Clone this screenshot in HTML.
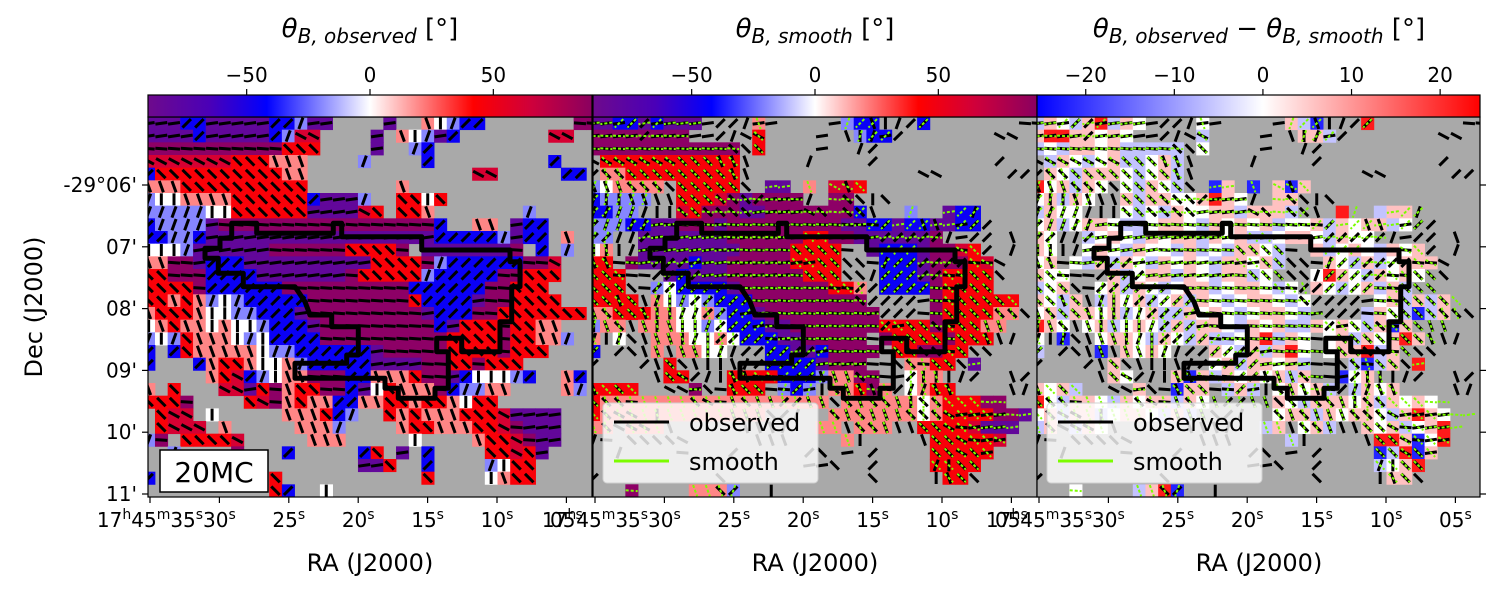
<!DOCTYPE html>
<html><head><meta charset="utf-8">
<style>
html,body{margin:0;padding:0;background:#fff;}
svg{display:block;font-family:"DejaVu Sans","Liberation Sans",sans-serif;}
</style></head>
<body>
<svg id="fig" width="1496" height="592" viewBox="0 0 1496 592" xmlns="http://www.w3.org/2000/svg">
<defs>
<linearGradient id="gTheta" x1="0" x2="1" y1="0" y2="0">
<stop offset="0" stop-color="#6e0a8c"/><stop offset="0.14" stop-color="#4a00b8"/><stop offset="0.267" stop-color="#0000ff"/><stop offset="0.5" stop-color="#ffffff"/><stop offset="0.733" stop-color="#ff0000"/><stop offset="0.86" stop-color="#d0003a"/><stop offset="1" stop-color="#8a0060"/>
</linearGradient>
<linearGradient id="gDiff" x1="0" x2="1" y1="0" y2="0">
<stop offset="0" stop-color="#0000ff"/><stop offset="0.51" stop-color="#ffffff"/><stop offset="1" stop-color="#ff0000"/>
</linearGradient>
<clipPath id="c1"><rect x="148" y="117" width="444" height="380"/></clipPath>
<clipPath id="c2"><rect x="593" y="117" width="444" height="380"/></clipPath>
<clipPath id="c3"><rect x="1037" y="117" width="443" height="380"/></clipPath>
</defs>
<g id="layer"></g>
</svg>
<script>
// ---- data ----
const charValueTheta = {p:-82, q:86, b:-45, l:-20, w:0, s:20, r:45, m:62};
const charValueDiff = {b:-22, l:-6, w:0, s:6, r:22};
const thetaTicks = [-50, 0, 50];
const diffTicks = [-20, -10, 0, 10, 20];
const decTickLabels = ["-29°06'", "07'", "08'", "09'", "10'", "11'"];
const decTickValues = [0, 1, 2, 3, 4, 5];
const raTickLabels = ["35", "30", "25", "20", "15", "10", "05"];
const raTickValues = [35, 30, 25, 20, 15, 10, 5];
const mapObserved = [
"pppbbpppppbblpp....p..swlbb.......qq.",
"ppppbpppppblmm....p.swlpb.......mm..",
"qqqqqqqqqqqrrr....p..lb.............",
"mmmmmmmrrrsss....l....b.........b..",
"brrrrrrrrrrss.............mm.....bb.",
"sssrrrrrrrrrr.......s...............",
"lwwssssrrrrrrbpppl..rrwr............",
"lllllwwrrrrrrppppmr.rrs.......l.....",
"bllllpqqqqqqqqqqqqqqqqqb..ss.pbb....",
"bbllbppppppppppppppppppbbbbblpbb.s..",
"wwwlppppppqqqqqqrrrrq.pppppppq.b.l..",
"ssqqpbbbpppppppppprrrrqlbbbbbbqqm...",
"rrqqqbbbbpppppppqrrrrrlbbbbbqqrrr...",
"rrrrqbbbbbbqqqqqqqqqqbbbbbbqqrrr....",
"rrsrslwlbbbbbqqqqqqqqrbbbbpqqrrrr...",
"srrrswwllbbbpqqqqqqqqqpbbbqqrrrrrrr.",
"wsrsswswwlbbbpqqqqqqqqqbprrrqrrss..",
"lwlrssswlwbbbbqqqqqqqqqqrrrrqrrssl..",
"b.brssssswllbbbbbbpqqqqqrrrrqrrr....",
"b...bsrrswwslbbbbbppppqqrrqrrr.....",
".....srmblwssqqqbbsssrqqpbwwwlb..sb",
"s.r...mmprqsrrqqbpwrsssqbllss....sl",
"rrrq....rmqsrssbbssrrsrrswrr.......",
".rmm.w.....sssrbl..rsrsssrrrmpppp.",
".rmmm.s.....sssl....srrsssrrmqppp..",
"lq.rrrrm.....sss.....w....srrmqpp..",
"..l....q...b.....br.p.b....rrmrp...",
".................ppr..b....lwrr....",
"b.........r...........r....wsrr....",
"..........rb..w....................."
];
const mapSmooth = [
"ppbbpbppp....s......lbb...b.........",
"qqqqqqqq.....r.......lbb............",
"qqqqqqqqqqqq.r......................",
".rrrrrrrrrrr........................",
".ssrrrrrrrrr........................",
"lwssss.rrrrr..pp.s.mmr.............",
"bllll..rrrmqpqqqq..qq...............",
"bbll...mrqqqppqqqqqqqb...l..pbb....",
"lllbbppqqqpqqqqqqqqqppbbpbbppbb....",
"ll..pppppppqqqqqqrrqqppppppq......",
"ws..ppppppppqqqqrrrr..pbbbpqqmr....",
"rr.qppppbppqqqqqrrrr...bbbpqqqrm...",
"rrr...pbpppqqqqqqrrr...bbbpqrrrr...",
"rrr..lwbbbbpqqqqqqqrrs.bbbbqrrrr...",
"rrrr.swlwlbbbqqqqqqqqq.....qrrrrrr.",
"ssrrrsswwslbbpqqqqqqqqq....qrrrrss.",
"lss.ssswwlwbbbppqqqqqqqrrrrqrrrss..",
"s.w..ssswwswbbbppqqqqq.qrrrrqrrr..",
"b....s.ssww...bbppbqqqq.rrqqrr.....",
"......r.......bbbbpqqq...ssrr.p....",
"......rr...rrrrbbblssqq..wss.......",
"rrrr....q..rrr.lbl.ssrqs.wsrr......",
"rssssssssssssssssss.sssssswsrrrqq..",
"rsssssssssssss.....ssssssswsrrrrqqp.",
"ss.sss............ss.sss..rrrrmppp.",
"....................s......rrrrrm..",
"...........................rrrrr....",
"...........................rrrr....",
"............................rr......",
"...q....sssl........................"
];
const mapDiff = [
"lswlsrlsw....w......slb...r.........",
"srrsswsw.....l.......ssl............",
"lwlsswslllll.w......................",
".lswlwsllwsl........................",
".swlssswlwsl........................",
"rwslsw.wlswl..bs.b.sbs.............",
"wslsw..slsswwsrsw..ss...............",
"lsww...wlwlswwsslsssl...r..lss.....",
"wslwsswllwsswlswswslwwslswsslw.....",
"sw..lwswlswsslswsllwsswlsww.......",
"sw..wswlswwlslwlsswl..slwswlsws....",
"ws.wlslswlswswlsswsl...swlslwsss...",
"sww...slwsslswlsslw...wrswlswsw....",
"lws..wslswlwsslwsswlw.swlwslsl.....",
"swls.lswslwslswlwsswlw.....wslsls..",
"wslsswslwsllswswlwsswl....lswlbls..",
"rsw.wslwswlslsswlswsllswswlsbs.....",
"w.b..wsswlswlsllwsrlsw.wslswsrs....",
"l....b.swsw...swlslsrw.wssrls......",
"......s.......wslsswsl...lbls.r....",
"......sw...sbslswswsls..bws........",
"swsl....s..bss.lsl.wswsl.lsws......",
"rwlsswlswsslsw.....swlssswslswsw...",
"wslsslwsswlsl......wsslswsswlsrsw..",
"ls.lsw............ls.wsl..swslwsr..",
"....................l......rrsbwr..",
"...........................blrbs....",
"...........................lwsr....",
"............................ss......",
"...w....lsrb........................"
];
// contour vertices (pixel coords measured in panel-1 reference zoom frame)
const contourZoomX = [110,185,185,415,415,440,440,680,680,945,945,975,975,950,950,915,915,800,800,725,725,760,760,720,720,610,610,570,570,300,300,455,455,490,490,410,410,345,330,300,145,145,70,70,30,30,75,75,110];
const contourZoomY = [25,25,55,55,25,25,65,65,105,105,140,140,215,215,320,320,410,410,370,370,410,410,520,520,550,550,520,520,490,490,445,445,420,420,335,335,300,300,260,215,215,175,175,130,130,100,100,70,70];

// ---- helpers ----
const NS = "http://www.w3.org/2000/svg";
const layer = document.getElementById('layer');
function mk(tag, attrs, parent){const e=document.createElementNS(NS,tag);for(const k in attrs)e.setAttribute(k,attrs[k]);(parent||layer).appendChild(e);return e;}
function lerpColor(stops, v){
  if(v<=stops[0][0])return 'rgb('+stops[0][1].join(',')+')';
  for(let i=1;i<stops.length;i++){if(v<=stops[i][0]){const t=(v-stops[i-1][0])/(stops[i][0]-stops[i-1][0]);const a=stops[i-1][1],b=stops[i][1];
    return 'rgb('+[0,1,2].map(j=>Math.round(a[j]+(b[j]-a[j])*t)).join(',')+')';}}
  const l=stops[stops.length-1][1];return 'rgb('+l.join(',')+')';
}
const thetaStops=[[-90,[110,10,140]],[-65,[74,0,184]],[-42,[0,0,255]],[0,[255,255,255]],[42,[255,0,0]],[65,[208,0,58]],[90,[128,0,110]]];
const diffStops=[[-25.5,[0,0,255]],[0,[255,255,255]],[24.5,[255,0,0]]];
const panelX=[148,593,1037], PW=444, PY=117, PH=380;
const CW=12.686, RH=12.667, GX0=-5.7;
function cellX(p,c){return panelX[p]+GX0+c*CW;}
function cellY(r){return PY+r*RH;}
function thetaX(p,v){return panelX[p]+PW/2+v*(PW/180);}
function diffX(v){return panelX[2]+(v+25.5)*(443/50);}

// ---- panels ----
for(let p=0;p<3;p++){
  const g=mk('g',{'clip-path':'url(#c'+(p+1)+')'});
  
  
  const bg=mk('rect',{x:panelX[p],y:PY,width:p==2?443:444,height:PH,fill:'#a9a9a9'},g);
  
  
  const map=[mapObserved,mapSmooth,mapDiff][p];
  for(let r=0;r<map.length;r++){for(let c=0;c<map[r].length;c++){
    const ch=map[r][c]; if(ch==='.'||ch===' ')continue;
    const col = p<2 ? lerpColor(thetaStops,charValueTheta[ch]) : lerpColor(diffStops,charValueDiff[ch]);
    const cell=mk('rect',{x:cellX(p,c).toFixed(2),y:cellY(r).toFixed(2),width:CW+0.4,height:RH+0.4,fill:col},g);
    
    
  }}
  const L=6;
  for(let r=0;r<30;r++){for(let c=0;c<36;c++){
    const cx=cellX(p,c)+CW/2, cy=cellY(r)+RH/2;
    const o=(mapObserved[r]||'')[c], s=(mapSmooth[r]||'')[c];
    if(o && o!=='.'){
      const th=charValueTheta[o]*Math.PI/180;
      const seg=mk('line',{x1:cx-L*Math.sin(th),y1:cy-L*Math.cos(th),x2:cx+L*Math.sin(th),y2:cy+L*Math.cos(th),stroke:'#000','stroke-width':3},g);
      
      
    }
    if(p>0 && s && s!=='.'){
      const th=charValueTheta[s]*Math.PI/180;
      const seg=mk('line',{x1:cx-L*Math.sin(th),y1:cy-L*Math.cos(th),x2:cx+L*Math.sin(th),y2:cy+L*Math.cos(th),stroke:'#7cfc00','stroke-width':2,'stroke-dasharray':'3,2'},g);
      
      
    }
  }}
  const pts=contourZoomX.map((zx,i)=>(195+zx/3+(panelX[p]-148)).toFixed(1)+','+(215+contourZoomY[i]/3).toFixed(1)).join(' ');
  const ct=mk('polygon',{points:pts,fill:'none',stroke:'#000','stroke-width':5,'stroke-linejoin':'round'},g);
  
  
  const fr=mk('rect',{x:panelX[p],y:PY,width:p==2?443:444,height:PH,fill:'none',stroke:'#000','stroke-width':1.2});
  
  

  for(let i=0;i<raTickValues.length;i++){
    const x=panelX[p]+150-148+(35-raTickValues[i])*(69.4/5);
    const tk=mk('line',{x1:x,y1:497,x2:x,y2:503,stroke:'#000','stroke-width':1.2});
    
    
    const t=mk('text',{x:x,y:527,'font-size':20,'text-anchor':'middle',fill:'#000'});
    
    
    if(i===0){
      t.innerHTML='17<tspan dy="-8" font-size="14">h</tspan><tspan dy="8">45</tspan><tspan dy="-8" font-size="14">m</tspan><tspan dy="8">'+raTickLabels[i]+'</tspan><tspan dy="-8" font-size="14">s</tspan>';
    } else {
      t.innerHTML=raTickLabels[i]+'<tspan dy="-8" font-size="14">s</tspan>';
    }
  }
  const xl=mk('text',{x:panelX[p]+222,y:571,'font-size':24,'text-anchor':'middle'});
  xl.textContent='RA (J2000)';
  
  

  const cb=mk('rect',{x:panelX[p],y:95,width:p==2?443:444,height:22,fill:p<2?'url(#gTheta)':'url(#gDiff)',stroke:'#000','stroke-width':1.2});
  
  
  const ticks=p<2?thetaTicks:diffTicks;
  for(const v of ticks){
    const x=p<2?thetaX(p,v):diffX(v);
    const tk=mk('line',{x1:x,y1:89,x2:x,y2:95,stroke:'#000','stroke-width':1.2});
    
    
    const t=mk('text',{x:x,y:82,'font-size':20,'text-anchor':'middle'});
    t.textContent=(v<0?'\u2212'+(-v):String(v));
    
    
  }
}

const titles=[
 '<tspan font-style="italic">θ</tspan><tspan font-style="italic" font-size="20" dy="6">B, observed</tspan><tspan dy="-6"> [°]</tspan>',
 '<tspan font-style="italic">θ</tspan><tspan font-style="italic" font-size="20" dy="6">B, smooth</tspan><tspan dy="-6"> [°]</tspan>',
 '<tspan font-style="italic">θ</tspan><tspan font-style="italic" font-size="20" dy="6">B, observed</tspan><tspan dy="-6"> − </tspan><tspan font-style="italic">θ</tspan><tspan font-style="italic" font-size="20" dy="6">B, smooth</tspan><tspan dy="-6"> [°]</tspan>'
];
for(let p=0;p<3;p++){
  const t=mk('text',{x:panelX[p]+222,y:37,'font-size':26,'text-anchor':'middle'});
  t.innerHTML=titles[p];
  
  
}

for(let i=0;i<decTickValues.length;i++){
  const y=185+decTickValues[i]*61.8;
  const tk=mk('line',{x1:142,y1:y,x2:148,y2:y,stroke:'#000','stroke-width':1.2});
  
  
  const tk2=mk('line',{x1:1480,y1:y,x2:1486,y2:y,stroke:'#000','stroke-width':1.2});
  
  
  const t=mk('text',{x:137,y:y+7,'font-size':20,'text-anchor':'end'});
  t.textContent=decTickLabels[i];
  
  
}
const yl=mk('text',{x:0,y:0,'font-size':24,'text-anchor':'middle',transform:'translate(42,307) rotate(-90)'});
yl.textContent='Dec (J2000)';



const lb=mk('g',{});


mk('rect',{x:160,y:450,width:108,height:42,fill:'#fff',stroke:'#000','stroke-width':1.5},lb);
const lt=mk('text',{x:214,y:482,'font-size':28,'text-anchor':'middle'},lb);
lt.textContent='20MC';

for(const p of [1,2]){
  const x0=panelX[p]+10;
  const lg=mk('g',{});
  
  
  mk('rect',{x:x0,y:403,width:215,height:80,rx:4,fill:'#fff','fill-opacity':0.8,stroke:'#d0d0d0'},lg);
  const e1=mk('line',{x1:x0+11,y1:422,x2:x0+66,y2:422,stroke:'#000','stroke-width':3},lg);
  
  
  const t1=mk('text',{x:x0+86,y:431,'font-size':24},lg);t1.textContent='observed';
  const e2=mk('line',{x1:x0+11,y1:461,x2:x0+66,y2:461,stroke:'#7cfc00','stroke-width':3},lg);
  
  
  const t2=mk('text',{x:x0+86,y:470,'font-size':24},lg);t2.textContent='smooth';
}
</script>
</body></html>
